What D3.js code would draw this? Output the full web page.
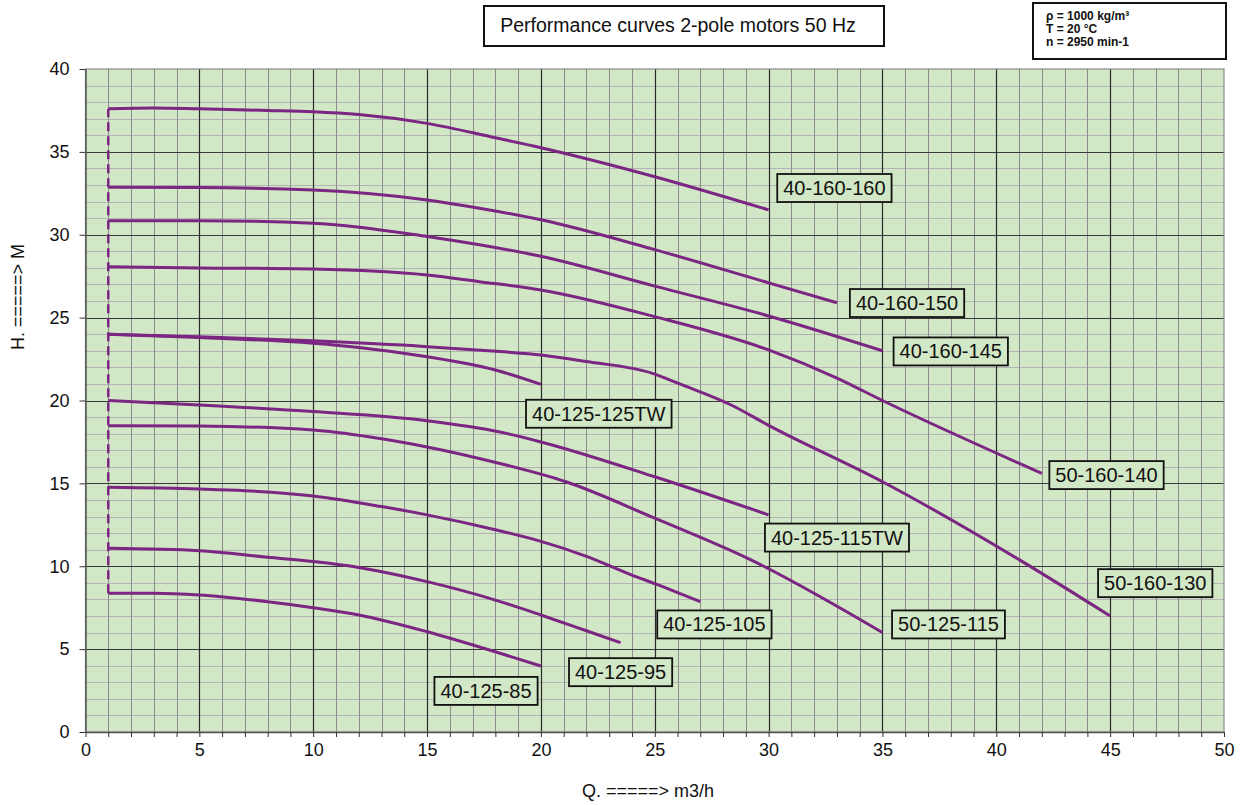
<!DOCTYPE html>
<html>
<head>
<meta charset="utf-8">
<script src="https://cdn.jsdelivr.net/npm/d3@7/dist/d3.min.js"></script>
<style>
  html, body { margin: 0; padding: 0; background: #ffffff; }
  svg { display: block; font-family: "Liberation Sans", Arial, sans-serif; }
</style>
</head>
<body>
<svg id="chart" width="1242" height="805"></svg>
<script>
// ---------------- DATA ----------------
const titleText = "Performance curves 2-pole motors 50 Hz";
const infoLines = ["\u03C1 = 1000 kg/m\u00B3", "T = 20 \u00B0C", "n = 2950 min-1"];
const xAxisTitle = "Q. =====> m3/h";
const yAxisTitle = "H. =====> M";
const xTickValues = [0, 5, 10, 15, 20, 25, 30, 35, 40, 45, 50];
const yTickValues = [0, 5, 10, 15, 20, 25, 30, 35, 40];

const seriesNames = [
  "40-160-160", "40-160-150", "40-160-145", "50-160-140",
  "40-125-125TW", "50-160-130", "40-125-115TW", "50-125-115",
  "40-125-105", "40-125-95", "40-125-85"
];
const seriesQ = [
  [1, 3, 5, 8, 10, 12, 15, 18, 20, 25, 30],
  [1, 5, 10, 15, 17.3, 20, 25, 30, 33],
  [1, 5, 10, 15, 17.3, 20, 25, 30, 35],
  [1, 5, 10, 15, 17.3, 20, 25, 30, 33, 35, 42],
  [1, 5, 10, 12, 15, 18, 20],
  [1, 5, 10, 15, 18.2, 20, 22, 24.9, 26.1, 28.4, 30, 35, 41, 45],
  [1, 5, 10, 15, 18.2, 20, 25, 30],
  [1, 5, 10, 12.5, 15, 18.2, 21.1, 25, 29.2, 35],
  [1, 5, 7, 10, 13, 15, 18, 20, 22, 24, 25, 27],
  [1, 5, 8, 10, 12, 15, 18, 20, 22, 23.5],
  [1, 3, 5, 8, 10, 12, 15, 18, 20]
];
const seriesH = [
  [37.6, 37.65, 37.6, 37.5, 37.42, 37.25, 36.72, 35.85, 35.25, 33.5, 31.5],
  [32.86, 32.85, 32.7, 32.1, 31.6, 30.9, 29.1, 27.1, 25.9],
  [30.85, 30.85, 30.7, 29.9, 29.4, 28.7, 26.9, 25.1, 23.0],
  [28.07, 28.0, 27.93, 27.57, 27.17, 26.67, 25.06, 23.05, 21.35, 20.0, 15.6],
  [24.0, 23.8, 23.45, 23.2, 22.64, 21.84, 20.97],
  [24.0, 23.85, 23.6, 23.25, 22.95, 22.75, 22.35, 21.64, 21.0, 19.7, 18.5, 15.1, 10.4, 7.0],
  [20.0, 19.73, 19.33, 18.78, 18.1, 17.5, 15.4, 13.1],
  [18.48, 18.46, 18.22, 17.8, 17.2, 16.2, 15.1, 12.9, 10.4, 6.0],
  [14.76, 14.66, 14.56, 14.24, 13.6, 13.1, 12.2, 11.5, 10.6, 9.47, 8.95, 7.86],
  [11.08, 10.94, 10.54, 10.28, 9.93, 9.07, 7.96, 7.06, 6.11, 5.39],
  [8.37, 8.37, 8.27, 7.86, 7.5, 7.06, 6.05, 4.84, 3.98]
];
// label box centres, in data units (Q, H)
const labelQ = [32.89, 36.08, 38.0, 44.84, 22.54, 46.98, 33.0, 37.9, 27.62, 23.5, 17.59];
const labelH = [32.82, 25.88, 22.96, 15.5, 19.2, 8.98, 11.73, 6.49, 6.49, 3.61, 2.48];

// ---------------- LAYOUT ----------------
const W = 1242, H = 805;
const plotLeft = 85.5, plotRight = 1224, plotTop = 69, plotBottom = 732;
const bgColor = "#d2e7c5";
const curveColor = "#7b2682";

const svg = d3.select("#chart");
const x = d3.scaleLinear().domain([0, 50]).range([plotLeft, plotRight]);
const y = d3.scaleLinear().domain([0, 40]).range([plotBottom, plotTop]);

// background
svg.append("rect")
  .attr("x", plotLeft).attr("y", plotTop)
  .attr("width", plotRight - plotLeft).attr("height", plotBottom - plotTop)
  .attr("fill", bgColor);

// grid
const grid = svg.append("g");
const minorX = d3.range(1, 50).filter(v => v % 5 !== 0);
const minorY = d3.range(1, 40).filter(v => v % 5 !== 0);
grid.selectAll(".hminor").data(minorY).join("line")
  .attr("x1", plotLeft).attr("x2", plotRight)
  .attr("y1", d => Math.round(y(d)) + 0.5).attr("y2", d => Math.round(y(d)) + 0.5)
  .attr("stroke", "#b4b4b4").attr("stroke-width", 1);
grid.selectAll(".vminor").data(minorX).join("line")
  .attr("y1", plotTop).attr("y2", plotBottom)
  .attr("x1", d => Math.round(x(d)) + 0.5).attr("x2", d => Math.round(x(d)) + 0.5)
  .attr("stroke", "#8c8c8c").attr("stroke-width", 1);
grid.selectAll(".hmajor").data(yTickValues.filter(v => v > 0 && v < 40)).join("line")
  .attr("x1", plotLeft).attr("x2", plotRight)
  .attr("y1", d => Math.round(y(d)) + 0.5).attr("y2", d => Math.round(y(d)) + 0.5)
  .attr("stroke", "#3a3a3a").attr("stroke-width", 1.2);
grid.selectAll(".vmajor").data(xTickValues.filter(v => v > 0 && v < 50)).join("line")
  .attr("y1", plotTop).attr("y2", plotBottom)
  .attr("x1", d => Math.round(x(d)) + 0.5).attr("x2", d => Math.round(x(d)) + 0.5)
  .attr("stroke", "#2a2a2a").attr("stroke-width", 1.2);

// plot frame (top & right)
svg.append("rect")
  .attr("x", plotLeft).attr("y", plotTop)
  .attr("width", plotRight - plotLeft).attr("height", plotBottom - plotTop)
  .attr("fill", "none").attr("stroke", "#8a8a8a").attr("stroke-width", 1.2);

// axes
const xAxis = d3.axisBottom(x).tickValues(d3.range(0, 51)).tickSizeOuter(0).tickSizeInner(5)
  .tickFormat(d => (d % 5 === 0 ? d : ""));
const gx = svg.append("g").attr("transform", `translate(0,${plotBottom})`).call(xAxis);
gx.select(".domain").attr("stroke", "#555").attr("stroke-width", 1.5);
gx.selectAll(".tick line").attr("stroke", "#333");
gx.selectAll(".tick text").attr("font-size", 18).attr("fill", "#111")
  .attr("font-family", "Liberation Sans, Arial, sans-serif").attr("dy", "0.9em");

const yAxis = d3.axisLeft(y).tickValues(yTickValues).tickSizeOuter(0).tickSizeInner(6);
const gy = svg.append("g").attr("transform", `translate(${plotLeft},0)`).call(yAxis);
gy.select(".domain").attr("stroke", "#555").attr("stroke-width", 1.5);
gy.selectAll(".tick line").attr("stroke", "#333");
gy.selectAll(".tick text").attr("font-size", 18).attr("fill", "#111")
  .attr("font-family", "Liberation Sans, Arial, sans-serif").attr("x", -16);

// axis titles
svg.append("text").attr("x", 648).attr("y", 797).attr("text-anchor", "middle")
  .attr("font-size", 18).attr("fill", "#111").text(xAxisTitle);
svg.append("text").attr("transform", `translate(24,${297}) rotate(-90)`)
  .attr("text-anchor", "middle").attr("font-size", 18).attr("fill", "#111").text(yAxisTitle);

// dashed start line at Q = first point
const startQ = d3.min(seriesQ, s => s[0]);
const startHmin = d3.min(seriesH, s => s[0]);
const startHmax = d3.max(seriesH, s => s[0]);
svg.append("line")
  .attr("x1", x(startQ)).attr("x2", x(startQ))
  .attr("y1", y(startHmin)).attr("y2", y(startHmax))
  .attr("stroke", curveColor).attr("stroke-width", 2.5).attr("stroke-dasharray", "9,5");

// curves
const line = d3.line().x(d => x(d[0])).y(d => y(d[1])).curve(d3.curveMonotoneX);
seriesNames.forEach((name, i) => {
  const pts = seriesQ[i].map((q, j) => [q, seriesH[i][j]]);
  svg.append("path").datum(pts).attr("d", line)
    .attr("fill", "none").attr("stroke", curveColor).attr("stroke-width", 3)
    .attr("stroke-linejoin", "round");
});

// labels
seriesNames.forEach((name, i) => {
  const g = svg.append("g");
  const t = g.append("text")
    .attr("x", x(labelQ[i])).attr("y", y(labelH[i]))
    .attr("text-anchor", "middle").attr("dominant-baseline", "central")
    .attr("font-size", 20).attr("fill", "#111").text(name);
  const bb = t.node().getBBox();
  g.insert("rect", "text")
    .attr("x", bb.x - 6).attr("y", y(labelH[i]) - 14)
    .attr("width", bb.width + 12).attr("height", 28)
    .attr("fill", bgColor).attr("stroke", "#111").attr("stroke-width", 1.8);
});

// title box
const tg = svg.append("g");
tg.append("rect").attr("x", 484).attr("y", 6).attr("width", 400).attr("height", 40)
  .attr("fill", "#fff").attr("stroke", "#111").attr("stroke-width", 2);
tg.append("text").attr("x", 678).attr("y", 32).attr("text-anchor", "middle")
  .attr("font-size", 19.5).attr("fill", "#111").text(titleText);

// info box
const ig = svg.append("g");
ig.append("rect").attr("x", 1033).attr("y", 3).attr("width", 193).attr("height", 56)
  .attr("fill", "#fff").attr("stroke", "#111").attr("stroke-width", 2);
ig.selectAll("text").data(infoLines).join("text")
  .attr("x", 1046).attr("y", (d, i) => 19.5 + i * 13.2)
  .attr("font-size", 12).attr("font-weight", "bold").attr("fill", "#111").text(d => d);
</script>
</body>
</html>
